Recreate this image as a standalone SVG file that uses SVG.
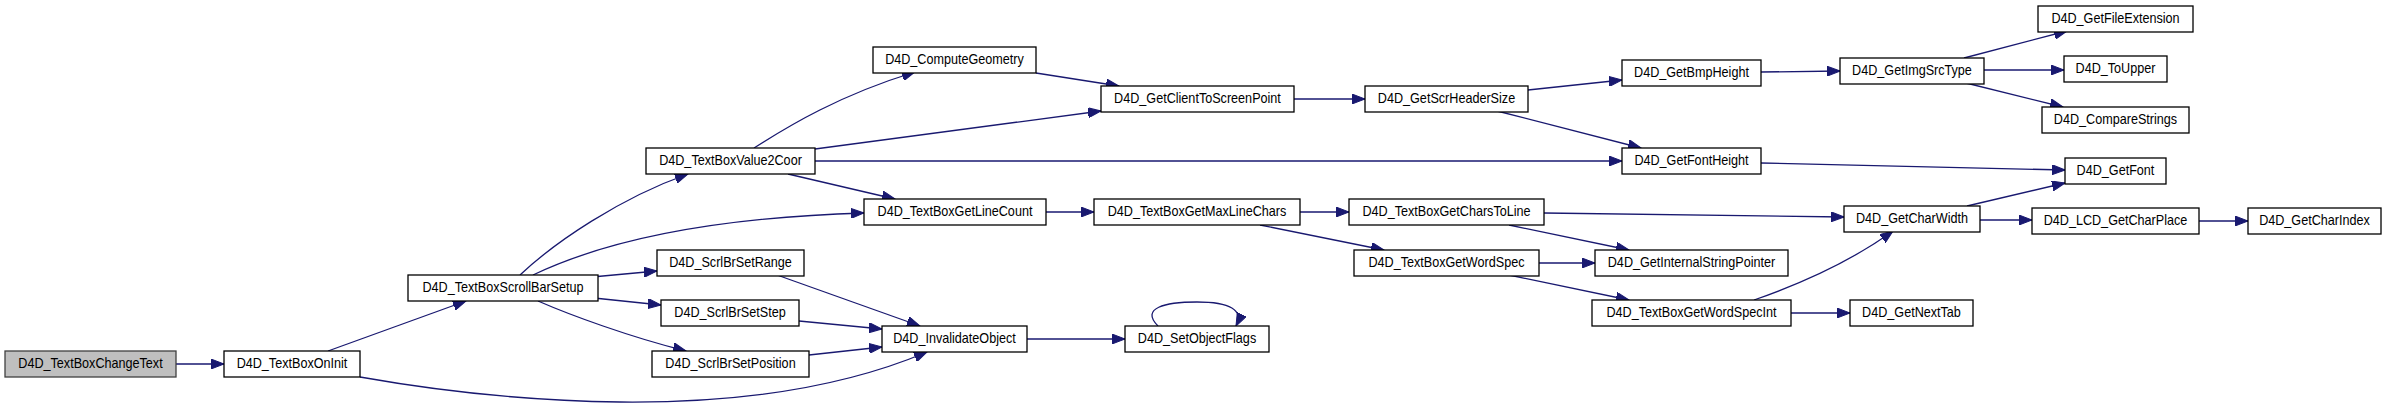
<svg xmlns="http://www.w3.org/2000/svg" width="2387" height="409" viewBox="0 0 2387 409">
<style>
.n rect{fill:#ffffff;stroke:#000000;stroke-width:1.3}
.n text{font-family:"Liberation Sans",Arial,sans-serif;font-size:14.5px;text-anchor:middle;fill:#000000}
#n1 rect{fill:#bfbfbf;stroke:#404040}
.e path{fill:none;stroke:#191970;stroke-width:1.3;marker-end:url(#ah)}
</style>
<defs>
<marker id="ah" markerUnits="userSpaceOnUse" markerWidth="14" markerHeight="10" refX="13" refY="5" orient="auto">
<path d="M0,0 L13,5 L0,10 z" fill="#191970" stroke="#191970" stroke-width="1"/>
</marker>
</defs>
<rect x="0" y="0" width="2387" height="409" fill="#ffffff"/>
<g id="edges" class="e">
<path d="M176,364 L224,364"/>
<path d="M328,351 L466,301"/>
<path d="M360,377 C450,393 540,401 620,402 C720,403 830,393 927,352"/>
<path d="M520,275 C555,242 620,198 688,174"/>
<path d="M533,275 C600,243 700,218 864,213"/>
<path d="M592,277 L657,271"/>
<path d="M594,298 L661,305"/>
<path d="M538,301 C570,315 630,337 686,351"/>
<path d="M754,148 C790,125 840,95 915,72"/>
<path d="M815,149 L1101,111"/>
<path d="M815,161 L1622,161"/>
<path d="M788,174 L895,199"/>
<path d="M1036,73 L1119,86"/>
<path d="M1294,99 L1365,99"/>
<path d="M1528,90 L1622,80"/>
<path d="M1497,111 L1641,148"/>
<path d="M1761,72 L1840,71"/>
<path d="M1964,58 L2067,31"/>
<path d="M1984,70 L2064,70"/>
<path d="M1966,83 L2063,107"/>
<path d="M1761,163 L2065,170"/>
<path d="M1046,212 L1094,212"/>
<path d="M1300,212 L1349,212"/>
<path d="M1260,225 L1384,250"/>
<path d="M1544,213 L1844,217"/>
<path d="M1509,225 L1629,250"/>
<path d="M1539,263 L1595,263"/>
<path d="M1509,275 L1629,300"/>
<path d="M1754,300 C1800,284 1850,262 1893,231"/>
<path d="M1791,313 L1850,313"/>
<path d="M1967,206 L2065,183"/>
<path d="M1980,220 L2032,220"/>
<path d="M2199,221 L2248,221"/>
<path d="M777,275 L920,326"/>
<path d="M799,321 L882,329"/>
<path d="M809,355 L882,347"/>
<path d="M1027,339 L1125,339"/>
<path d="M1158,326 C1140,308 1165,302 1197,302 C1230,302 1244,310 1236,326"/>
</g>
<g id="n1" class="n"><rect x="5" y="351" width="171" height="26"/><text transform="scale(0.87 1)" x="104.02" y="368.5">D4D_TextBoxChangeText</text></g>
<g id="n2" class="n"><rect x="224" y="351" width="136" height="26"/><text transform="scale(0.87 1)" x="335.63" y="368.5">D4D_TextBoxOnInit</text></g>
<g id="n3" class="n"><rect x="408" y="275" width="190" height="26"/><text transform="scale(0.87 1)" x="578.16" y="292.5">D4D_TextBoxScrollBarSetup</text></g>
<g id="n4" class="n"><rect x="646" y="148" width="169" height="26"/><text transform="scale(0.87 1)" x="839.66" y="165.5">D4D_TextBoxValue2Coor</text></g>
<g id="n5" class="n"><rect x="873" y="47" width="163" height="26"/><text transform="scale(0.87 1)" x="1097.13" y="64.5">D4D_ComputeGeometry</text></g>
<g id="n6" class="n"><rect x="1101" y="86" width="193" height="26"/><text transform="scale(0.87 1)" x="1376.44" y="103.5">D4D_GetClientToScreenPoint</text></g>
<g id="n7" class="n"><rect x="1365" y="86" width="163" height="26"/><text transform="scale(0.87 1)" x="1662.64" y="103.5">D4D_GetScrHeaderSize</text></g>
<g id="n8" class="n"><rect x="1622" y="60" width="139" height="26"/><text transform="scale(0.87 1)" x="1944.25" y="77.5">D4D_GetBmpHeight</text></g>
<g id="n9" class="n"><rect x="1840" y="58" width="144" height="26"/><text transform="scale(0.87 1)" x="2197.70" y="75.5">D4D_GetImgSrcType</text></g>
<g id="n10" class="n"><rect x="2038" y="6" width="155" height="26"/><text transform="scale(0.87 1)" x="2431.61" y="23.5">D4D_GetFileExtension</text></g>
<g id="n11" class="n"><rect x="2064" y="56" width="103" height="26"/><text transform="scale(0.87 1)" x="2431.61" y="73.5">D4D_ToUpper</text></g>
<g id="n12" class="n"><rect x="2042" y="107" width="147" height="26"/><text transform="scale(0.87 1)" x="2431.61" y="124.5">D4D_CompareStrings</text></g>
<g id="n13" class="n"><rect x="1622" y="148" width="139" height="26"/><text transform="scale(0.87 1)" x="1944.25" y="165.5">D4D_GetFontHeight</text></g>
<g id="n14" class="n"><rect x="2065" y="158" width="101" height="26"/><text transform="scale(0.87 1)" x="2431.61" y="175.5">D4D_GetFont</text></g>
<g id="n15" class="n"><rect x="864" y="199" width="182" height="26"/><text transform="scale(0.87 1)" x="1097.70" y="216.5">D4D_TextBoxGetLineCount</text></g>
<g id="n16" class="n"><rect x="1094" y="199" width="206" height="26"/><text transform="scale(0.87 1)" x="1375.86" y="216.5">D4D_TextBoxGetMaxLineChars</text></g>
<g id="n17" class="n"><rect x="1349" y="199" width="195" height="26"/><text transform="scale(0.87 1)" x="1662.64" y="216.5">D4D_TextBoxGetCharsToLine</text></g>
<g id="n18" class="n"><rect x="1354" y="250" width="185" height="26"/><text transform="scale(0.87 1)" x="1662.64" y="267.5">D4D_TextBoxGetWordSpec</text></g>
<g id="n19" class="n"><rect x="1595" y="250" width="193" height="26"/><text transform="scale(0.87 1)" x="1944.25" y="267.5">D4D_GetInternalStringPointer</text></g>
<g id="n20" class="n"><rect x="1592" y="300" width="199" height="26"/><text transform="scale(0.87 1)" x="1944.25" y="317.5">D4D_TextBoxGetWordSpecInt</text></g>
<g id="n21" class="n"><rect x="1844" y="206" width="136" height="26"/><text transform="scale(0.87 1)" x="2197.70" y="223.5">D4D_GetCharWidth</text></g>
<g id="n22" class="n"><rect x="2032" y="208" width="167" height="26"/><text transform="scale(0.87 1)" x="2431.61" y="225.5">D4D_LCD_GetCharPlace</text></g>
<g id="n23" class="n"><rect x="2248" y="208" width="133" height="26"/><text transform="scale(0.87 1)" x="2660.34" y="225.5">D4D_GetCharIndex</text></g>
<g id="n24" class="n"><rect x="1850" y="300" width="123" height="26"/><text transform="scale(0.87 1)" x="2197.13" y="317.5">D4D_GetNextTab</text></g>
<g id="n25" class="n"><rect x="657" y="250" width="147" height="26"/><text transform="scale(0.87 1)" x="839.66" y="267.5">D4D_ScrlBrSetRange</text></g>
<g id="n26" class="n"><rect x="661" y="300" width="138" height="26"/><text transform="scale(0.87 1)" x="839.08" y="317.5">D4D_ScrlBrSetStep</text></g>
<g id="n27" class="n"><rect x="652" y="351" width="157" height="26"/><text transform="scale(0.87 1)" x="839.66" y="368.5">D4D_ScrlBrSetPosition</text></g>
<g id="n28" class="n"><rect x="882" y="326" width="145" height="26"/><text transform="scale(0.87 1)" x="1097.13" y="343.5">D4D_InvalidateObject</text></g>
<g id="n29" class="n"><rect x="1125" y="326" width="144" height="26"/><text transform="scale(0.87 1)" x="1375.86" y="343.5">D4D_SetObjectFlags</text></g>
</svg>
